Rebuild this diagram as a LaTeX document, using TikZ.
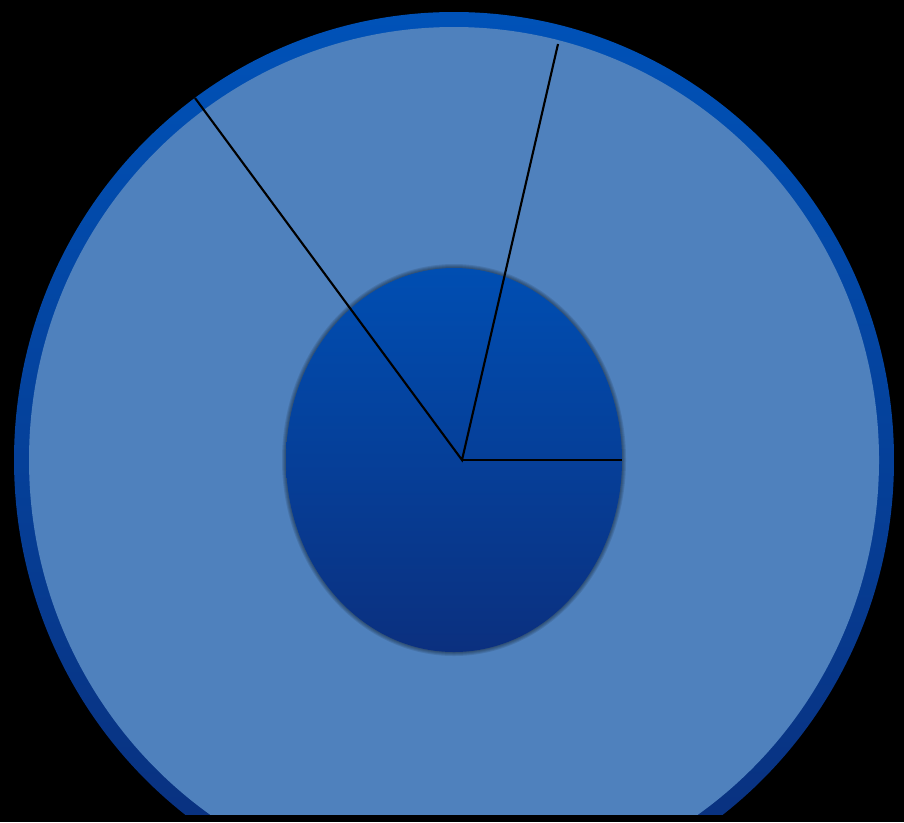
\documentclass[tikz,border=0pt]{standalone}
\usetikzlibrary{calc}
\definecolor{rimtop}{HTML}{0052B8}
\definecolor{rimbottom}{HTML}{0A2E7A}
\definecolor{disc}{HTML}{4F81BD}
\definecolor{hubtop}{HTML}{004EB2}
\definecolor{hubmid}{HTML}{0A43A0}
\definecolor{hubbottom}{HTML}{0B307F}
\tikzset{
  spoke/.style={line width=0.6pt, color=black},
  rim/.style={top color=rimtop, bottom color=rimbottom},
  hub/.style={top color=hubtop, middle color=hubmid, bottom color=hubbottom}
}

\begin{document}
\begin{tikzpicture}[x=0.1mm, y=-0.1mm]
\fill[black] (0,0) rectangle (904,822);
\coordinate (O) at (454,460);
\coordinate (C) at (462,460);
\coordinate (A) at (195,98);
\coordinate (B) at (558,44);
\coordinate (R) at (622,460);
\begin{scope}
\clip (0,0) rectangle (904,814);
\shade[rim] (O) ellipse [x radius=440, y radius=448];
\fill[disc] (O) ellipse [x radius=425, y radius=433];
\foreach \g in {4,3,2,1}
  \fill[black, opacity=0.1] (O) ellipse [x radius=168+\g, y radius=192+\g];
\shade[hub] (O) ellipse [x radius=168, y radius=192];
\end{scope}
\draw[spoke] (A) -- (C) -- (B);
\draw[spoke] (C) -- (R);
\end{tikzpicture}
\end{document}
